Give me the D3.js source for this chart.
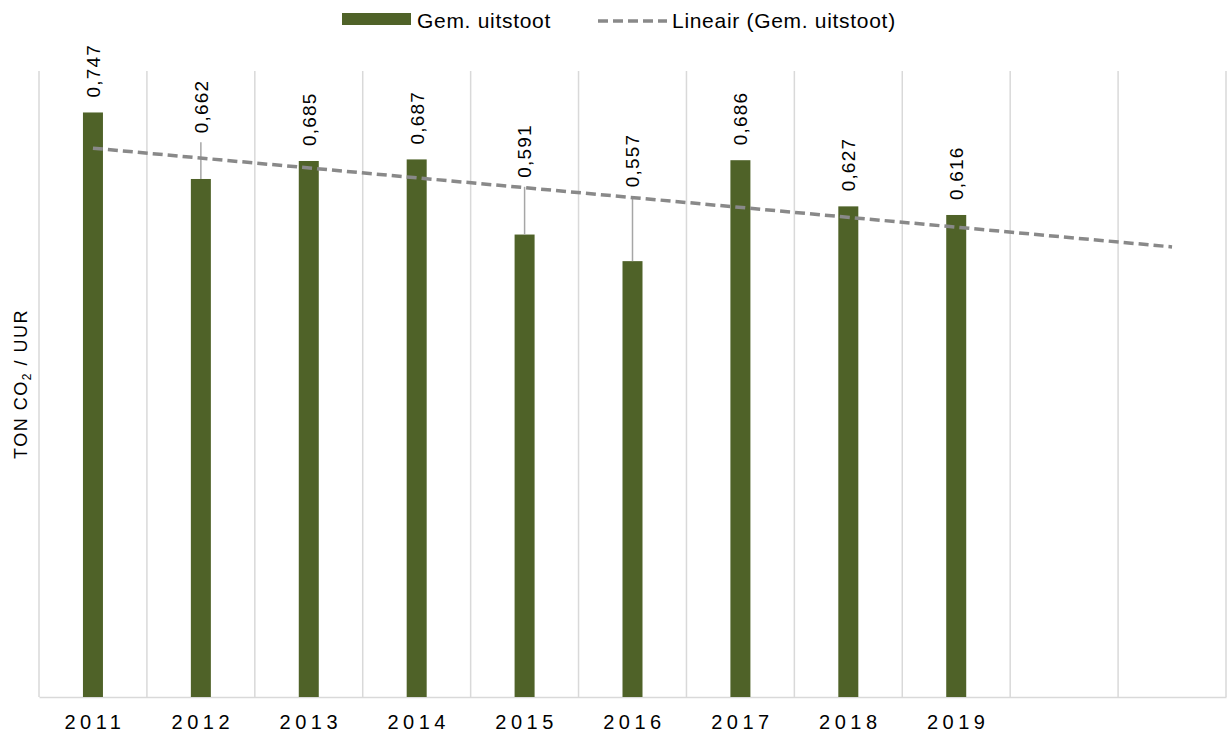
<!DOCTYPE html>
<html>
<head>
<meta charset="utf-8">
<script src="https://cdn.jsdelivr.net/npm/d3@7.9.0/dist/d3.min.js"></script>
<style>
  body { margin: 0; background: #fff; }
  text { font-family: "Liberation Sans", Arial, sans-serif; fill: #000; }
</style>
</head>
<body>
<div id="chart"></div>
<script>
// categories (two empty slots at the end, as in the original sheet)
const years = ['2011', '2012', '2013', '2014', '2015', '2016', '2017', '2018', '2019', '', ' '];
const uitstoot = [0.747, 0.662, 0.685, 0.687, 0.591, 0.557, 0.686, 0.627, 0.616];
const labels = ['0,747', '0,662', '0,685', '0,687', '0,591', '0,557', '0,686', '0,627', '0,616'];
// labels that were dragged up above the trend line (value where the leader line starts)
const labelMoved = [null, 0.709, null, null, 0.652, 0.64, null, null, null];

const width = 1227;
const height = 735;
const margin = { top: 71, right: 1, bottom: 38, left: 39 };

const svg = d3.select('#chart')
    .append('svg')
    .attr('width', width)
    .attr('height', height);

const x = d3.scaleBand()
    .domain(years)
    .range([margin.left, width - margin.right])
    .padding(0);

const y = d3.scaleLinear()
    .domain([0, 0.8])
    .range([height - margin.bottom, margin.top]);

const data = uitstoot.map((v, i) => ({ year: years[i], value: v, label: labels[i], moved: labelMoved[i] }));

// vertical gridlines at the category borders
const borders = years.map(d => x(d)).concat([width - margin.right]);
svg.append('g')
    .attr('class', 'gridlines')
    .selectAll('line')
    .data(borders)
    .enter()
    .append('line')
    .attr('x1', d => d)
    .attr('x2', d => d)
    .attr('y1', y(0.8))
    .attr('y2', y(0))
    .attr('stroke', '#d9d9d9')
    .attr('stroke-width', 1.5);

// x axis
const xAxis = svg.append('g')
    .attr('class', 'x-axis')
    .attr('transform', `translate(0, ${y(0)})`)
    .call(d3.axisBottom(x).tickSize(0).tickPadding(18));
xAxis.select('.domain').attr('stroke', '#d9d9d9').attr('stroke-width', 1.5);
xAxis.selectAll('text')
    .attr('font-size', '20px')
    .attr('letter-spacing', '4.5px')
    .attr('dx', '2px')
    .attr('font-family', '"Liberation Sans", Arial, sans-serif')
    .attr('fill', '#000');

// bars
const barWidth = 20;
svg.append('g')
    .attr('class', 'bars')
    .selectAll('rect')
    .data(data)
    .enter()
    .append('rect')
    .attr('x', d => x(d.year) + x.bandwidth() / 2 - barWidth / 2)
    .attr('y', d => y(d.value))
    .attr('width', barWidth)
    .attr('height', d => y(0) - y(d.value))
    .attr('fill', '#4F6228');

// leader lines for moved labels
svg.append('g')
    .attr('class', 'leaders')
    .selectAll('line')
    .data(data.filter(d => d.moved !== null))
    .enter()
    .append('line')
    .attr('x1', d => x(d.year) + x.bandwidth() / 2)
    .attr('x2', d => x(d.year) + x.bandwidth() / 2)
    .attr('y1', d => y(d.moved))
    .attr('y2', d => y(d.value))
    .attr('stroke', '#a6a6a6')
    .attr('stroke-width', 1.5);

// linear trend line (least squares), extended over the empty categories
const xs = uitstoot.map((v, i) => i + 1);
const mx = d3.mean(xs);
const my = d3.mean(uitstoot);
const slope = d3.sum(xs, (xi, i) => (xi - mx) * (uitstoot[i] - my)) / d3.sum(xs, xi => (xi - mx) ** 2);
const intercept = my - slope * mx;
const trend = [1, years.length].map(k => ({ year: years[k - 1], value: intercept + slope * k }));

svg.append('path')
    .datum(trend)
    .attr('class', 'trend')
    .attr('fill', 'none')
    .attr('stroke', '#898989')
    .attr('stroke-width', 3.5)
    .attr('stroke-dasharray', '10,5')
    .attr('d', d3.line()
        .x(d => x(d.year) + x.bandwidth() / 2)
        .y(d => y(d.value)));

// data labels (rotated)
svg.append('g')
    .attr('class', 'labels')
    .selectAll('text')
    .data(data)
    .enter()
    .append('text')
    .attr('transform', d => {
        const cx = x(d.year) + x.bandwidth() / 2;
        const base = d.moved !== null ? y(d.moved) - 9 : y(d.value) - 15;
        return `translate(${cx}, ${base}) rotate(-90)`;
    })
    .attr('dy', '0.36em')
    .attr('text-anchor', 'start')
    .attr('font-size', '19px')
    .attr('letter-spacing', '1.2px')
    .text(d => d.label);

// y axis title
const yTitle = svg.append('text')
    .attr('class', 'y-axis-label')
    .attr('transform', `translate(27, ${(y(0) + y(0.8)) / 2}) rotate(-90)`)
    .attr('text-anchor', 'middle')
    .attr('font-size', '18px')
    .attr('letter-spacing', '1.5px');
yTitle.append('tspan').text('TON CO');
yTitle.append('tspan').attr('font-size', '12px').attr('dy', '4').text('2');
yTitle.append('tspan').attr('dy', '-4').text(' / UUR');

// legend
const legend = svg.append('g').attr('class', 'legend');
legend.append('rect')
    .attr('x', 342)
    .attr('y', 13)
    .attr('width', 69)
    .attr('height', 12)
    .attr('fill', '#4F6228');
legend.append('text')
    .attr('x', 417)
    .attr('y', 28)
    .attr('font-size', '21px')
    .attr('letter-spacing', '0.7px')
    .text('Gem. uitstoot');
legend.append('line')
    .attr('x1', 598)
    .attr('x2', 667)
    .attr('y1', 21)
    .attr('y2', 21)
    .attr('stroke', '#898989')
    .attr('stroke-width', 3.5)
    .attr('stroke-dasharray', '10,5');
legend.append('text')
    .attr('x', 672)
    .attr('y', 28)
    .attr('font-size', '21px')
    .attr('letter-spacing', '0.7px')
    .text('Lineair (Gem. uitstoot)');
</script>
</body>
</html>
